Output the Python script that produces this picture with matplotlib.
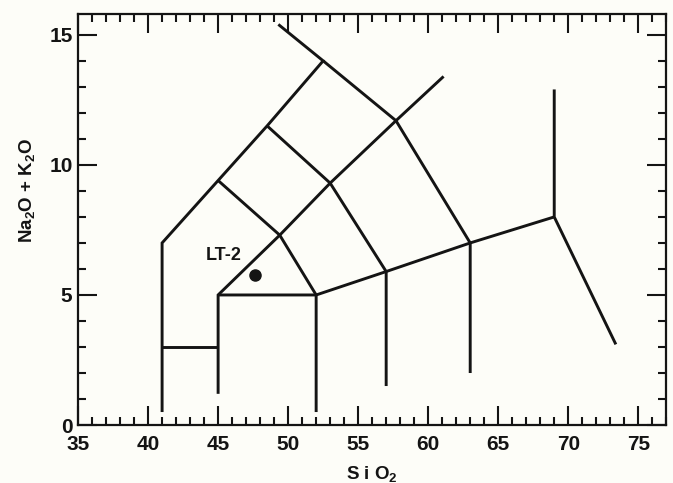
import numpy as np
import matplotlib
matplotlib.use('Agg')
import matplotlib.pyplot as plt
from matplotlib.ticker import MultipleLocator

# field boundaries (SiO2, Na2O+K2O)
b41_x = [41, 41, 45, 48.5, 52.5, 49.3]
b41_y = [0.5, 7, 9.4, 11.5, 14, 15.4]
b41_3_x = [41, 45]
b41_3_y = [3, 3]
b45_x = [45, 45, 49.4, 53, 57.7, 61.1]
b45_y = [1.2, 5, 7.3, 9.3, 11.7, 13.4]
base_x = [45, 52, 57, 63, 69]
base_y = [5, 5, 5.9, 7, 8]
b52_x = [52, 52, 49.4, 45]
b52_y = [0.5, 5, 7.3, 9.4]
b57_x = [57, 57, 53, 48.5]
b57_y = [1.5, 5.9, 9.3, 11.5]
b63_x = [63, 63, 57.7, 52.5]
b63_y = [2.0, 7, 11.7, 14]
b69_x = [69, 69, 73.4]
b69_y = [12.9, 8, 3.1]

boundaries = [(b41_x, b41_y), (b41_3_x, b41_3_y), (b45_x, b45_y),
              (base_x, base_y), (b52_x, b52_y), (b57_x, b57_y),
              (b63_x, b63_y), (b69_x, b69_y)]

sample_name = 'LT-2'
sample_sio2 = 47.6
sample_alk = 5.75

plt.rcParams['font.family'] = 'Liberation Sans'
plt.rcParams['font.weight'] = 'bold'
plt.rcParams['axes.labelweight'] = 'bold'
plt.rcParams['mathtext.fontset'] = 'custom'
plt.rcParams['mathtext.rm'] = 'Liberation Sans:bold'
plt.rcParams['mathtext.default'] = 'rm'

ink = '#141414'

fig = plt.figure(figsize=(6.73, 4.83), dpi=100)
fig.patch.set_facecolor('#fdfdf8')
ax = fig.add_axes([0.116, 0.120, 0.874, 0.851])
ax.set_facecolor('#fdfdf8')

for xs, ys in boundaries:
    ax.plot(xs, ys, color=ink, lw=2.1, solid_joinstyle='miter', solid_capstyle='butt')

ax.plot(sample_sio2, sample_alk, 'o', color=ink, ms=8)
ax.text(sample_sio2 - 2.2, sample_alk + 0.77, sample_name, fontsize=13,
        ha='center', va='center', color=ink)

ax.set_xlim(35, 77)
ax.set_ylim(0, 15.8)

ax.xaxis.set_major_locator(MultipleLocator(5))
ax.xaxis.set_minor_locator(MultipleLocator(1))
ax.yaxis.set_major_locator(MultipleLocator(5))
ax.yaxis.set_minor_locator(MultipleLocator(1))

ax.tick_params(which='both', direction='in', top=True, right=True,
               color=ink, width=1.5, labelsize=15, labelcolor=ink)
ax.tick_params(which='major', length=14)
ax.tick_params(which='minor', length=5.5)
ax.tick_params(axis='x', which='major', pad=7)
ax.tick_params(axis='y', which='major', pad=4)

for s in ax.spines.values():
    s.set_linewidth(1.6)
    s.set_color(ink)

ax.set_xlabel('S i O$_{2}$', fontsize=13.5, color=ink, fontweight='bold')
ax.set_ylabel('Na$_{2}$O + K$_{2}$O', fontsize=13.5, color=ink, fontweight='bold')
ax.xaxis.set_label_coords(0.5, -0.095)
ax.yaxis.set_label_coords(-0.07, 0.57)

plt.savefig('out.png', dpi=100, facecolor=fig.get_facecolor())
